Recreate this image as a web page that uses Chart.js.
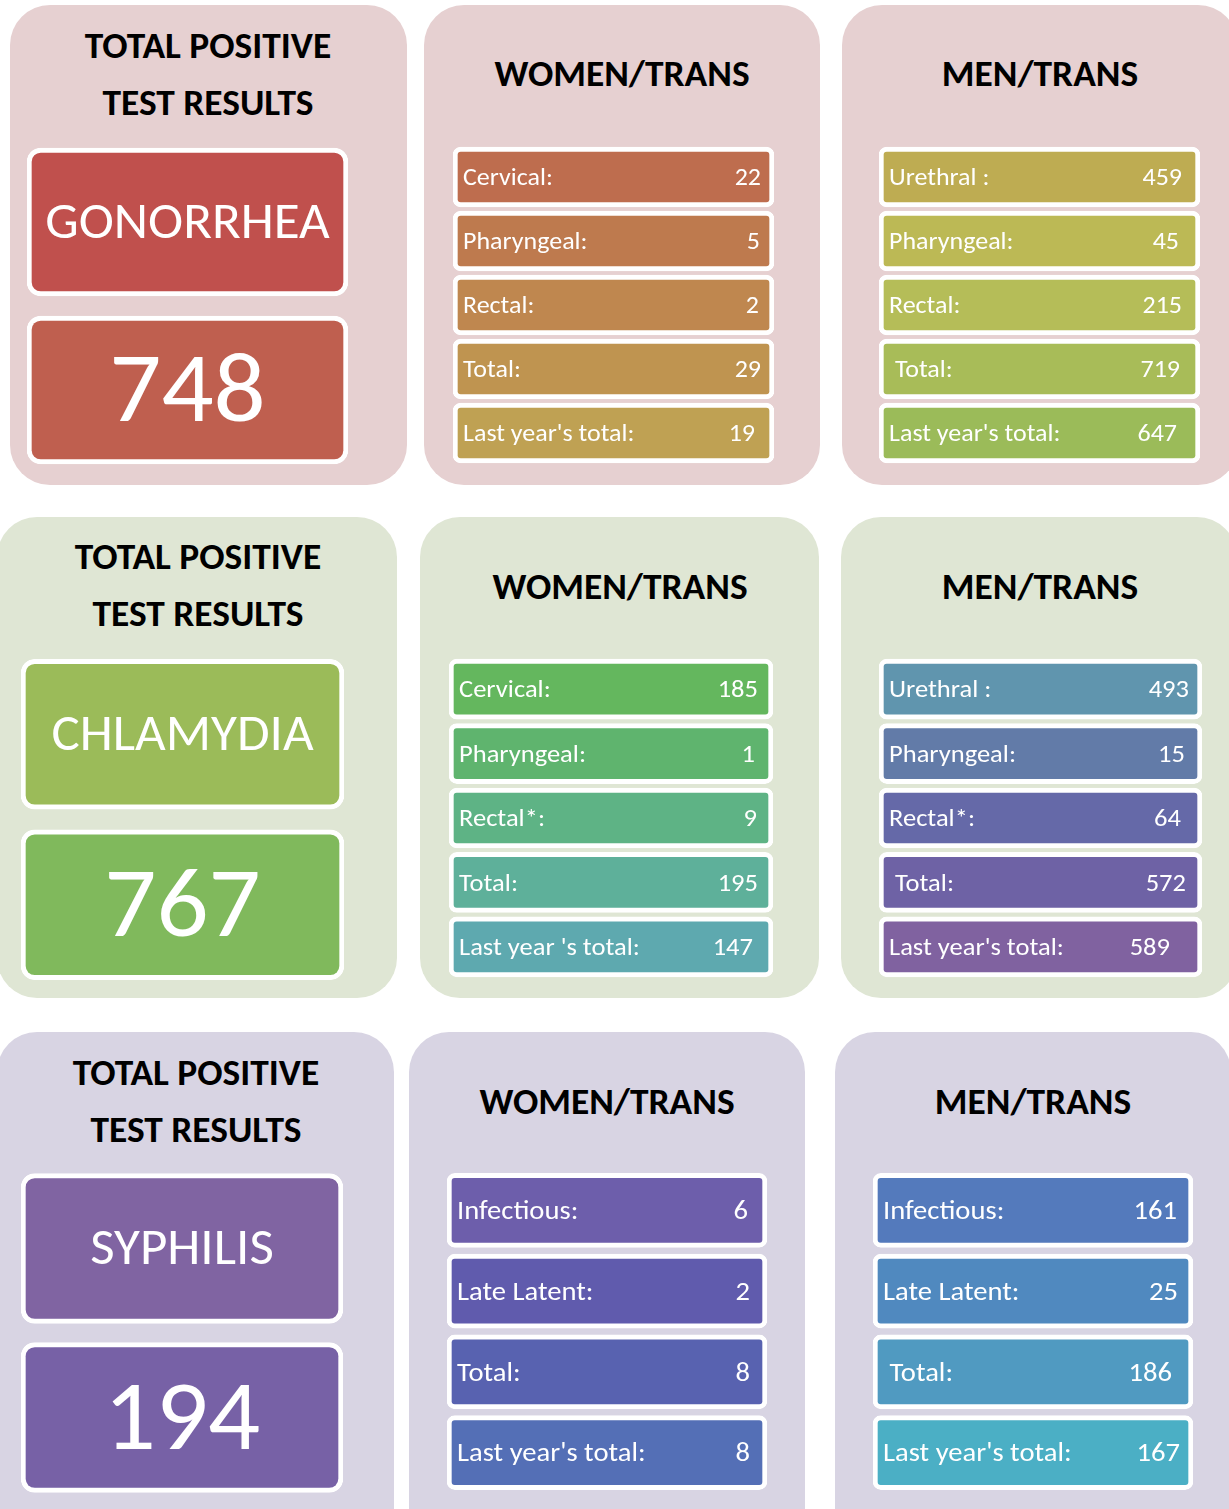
<!DOCTYPE html>
<html>
<head>
<meta charset="utf-8">
<script src="https://cdn.jsdelivr.net/npm/chart.js@4.4.1/dist/chart.umd.min.js"></script>
<style>
  html, body { margin:0; padding:0; background:#fff; }
  body { width:1229px; height:1509px; position:relative; overflow:hidden; font-family: Carlito, Lato, sans-serif; }
  .panel { position:absolute; border-radius:40px; }
  .title { position:absolute; width:500px; text-align:center; font-weight:700; color:#000; white-space:pre; }
  canvas { position:absolute; }
</style>
</head>
<body>
<script>
// ---------------- DATA ----------------
const diseases = ['GONORRHEA', 'CHLAMYDIA', 'SYPHILIS'];
const diseaseTotals = [748, 767, 194];
const totalTitle = ['TOTAL POSITIVE', 'TEST RESULTS'];
const groupTitles = ['WOMEN/TRANS', 'MEN/TRANS'];

const gonWomenLabels = ['Cervical:', 'Pharyngeal:', 'Rectal:', 'Total:', "Last year's total:"];
const gonWomenValues = [22, 5, 2, 29, 19];
const gonMenLabels = ['Urethral :', 'Pharyngeal:', 'Rectal:', ' Total:', "Last year's total:"];
const gonMenValues = [459, 45, 215, 719, 647];

const chlWomenLabels = ['Cervical:', 'Pharyngeal:', 'Rectal*:', 'Total:', "Last year 's total:"];
const chlWomenValues = [185, 1, 9, 195, 147];
const chlMenLabels = ['Urethral :', 'Pharyngeal:', 'Rectal*:', ' Total:', "Last year's total:"];
const chlMenValues = [493, 15, 64, 572, 589];

const syphWomenLabels = ['Infectious:', 'Late Latent:', 'Total:', "Last year's total:"];
const syphWomenValues = [6, 2, 8, 8];
const syphMenLabels = ['Infectious:', 'Late Latent:', ' Total:', "Last year's total:"];
const syphMenValues = [161, 25, 186, 167];

// ---------------- STYLE / LAYOUT ----------------
const FONT = 'Carlito, Lato, sans-serif';
const CAP = 0.7165;
const STRETCH = 1.04;

const rowBg = ['#E6D0D1', '#DFE6D4', '#D8D4E3'];
const panelRects = [
  [[10, 5, 397, 480], [424, 5, 396, 480], [842, 5, 396, 480]],
  [[-3, 517, 400, 481], [420, 517, 399, 481], [841, 517, 396, 481]],
  [[-3, 1032, 397, 540], [409, 1032, 396, 540], [835, 1032, 396, 540]]
];
// title cap-centre positions
const titlePos = [
  [[207.5, [47.5, 104.5]], [621.5, [75.5]], [1040, [75.5]]],
  [[197.5, [558.5, 615.5]], [620, [588.5]], [1040, [588.5]]],
  [[196, [1074, 1131.5]], [606.5, [1103.5]], [1033, [1103.5]]]
];
const TITLE_SIZE = 36;

const gonColors = ['#C0504D', '#BF5F4F'];
const chlColors = ['#9BBB59', '#80B95C'];
const syphColors = ['#8064A2', '#7761A6'];
const gonWomenColors = ['#BE6D4E', '#BE7A4E', '#BF874F', '#BF9450', '#BFA153'];
const gonMenColors = ['#BEAC52', '#BCB955', '#B5BD58', '#A8BC58', '#9BBB59'];
const chlWomenColors = ['#64B75E', '#5FB46E', '#5EB385', '#5EB09A', '#5EA9AF'];
const chlMenColors = ['#6095AE', '#627BA8', '#6569A8', '#6E62A5', '#8062A0'];
const syphWomenColors = ['#6D5EAB', '#605BAD', '#5862B0', '#546FB6'];
const syphMenColors = ['#547ABC', '#5089BF', '#509AC1', '#4BAFC5'];

// ---------------- BUILD ----------------
function el(tag, css, parent) {
  const e = document.createElement(tag);
  Object.assign(e.style, css);
  (parent || document.body).appendChild(e);
  return e;
}

panelRects.forEach((row, r) => {
  row.forEach(([x, y, w, h]) => {
    const d = el('div', { left: x + 'px', top: y + 'px', width: w + 'px', height: h + 'px', background: rowBg[r] });
    d.className = 'panel';
  });
});

titlePos.forEach((row, r) => {
  row.forEach(([cx, lines], p) => {
    const texts = p === 0 ? totalTitle : [groupTitles[p - 1]];
    lines.forEach((cy, i) => {
      const t = el('div', {
        left: (cx - 250) + 'px', top: (cy - 0.53 * TITLE_SIZE) + 'px',
        fontSize: TITLE_SIZE + 'px', lineHeight: TITLE_SIZE + 'px',
        transform: 'scaleX(' + STRETCH + ')'
      });
      t.className = 'title';
      t.textContent = texts[i];
    });
  });
});

function stretchedText(ctx, text, x, y, align) {
  ctx.save();
  ctx.translate(x, y);
  ctx.scale(STRETCH, 1);
  ctx.textAlign = align;
  ctx.fillText(text, 0, 0);
  ctx.restore();
}

const boxText = {
  id: 'boxText',
  afterDatasetsDraw(chart, args, o) {
    const ctx = chart.ctx;
    const meta = chart.getDatasetMeta(0);
    ctx.save();
    ctx.fillStyle = '#FFFFFF';
    ctx.textBaseline = 'alphabetic';
    meta.data.forEach((bar, i) => {
      const p = bar.getProps(['x', 'y', 'base'], true);
      const left = Math.min(p.x, p.base), right = Math.max(p.x, p.base);
      if (o.mode === 'rows') {
        ctx.font = o.size + 'px ' + FONT;
        const by = p.y + o.size * CAP / 2 + o.dy;
        stretchedText(ctx, chart.data.labels[i], left + o.padL, by, 'left');
        stretchedText(ctx, String(o.values[i]), right - o.insets[i], by, 'right');
      } else {
        const s = o.sizes[i];
        ctx.font = s + 'px ' + FONT;
        stretchedText(ctx, chart.data.labels[i], (left + right) / 2, p.y + s * CAP / 2 + o.dy[i], 'center');
      }
    });
    ctx.restore();
  }
};

function boxChart(cfg) {
  const c = el('canvas', { left: cfg.x + 'px', top: cfg.y + 'px', width: cfg.w + 'px', height: cfg.h + 'px' });
  c.width = cfg.w; c.height = cfg.h;
  return new Chart(c.getContext('2d'), {
    type: 'bar',
    data: {
      labels: cfg.labels,
      datasets: [{
        data: cfg.labels.map(() => [0, 1]),
        backgroundColor: cfg.colors,
        borderColor: '#FFFFFF',
        borderWidth: cfg.border,
        borderRadius: cfg.radius,
        borderSkipped: false,
        barThickness: cfg.thick
      }]
    },
    options: {
      indexAxis: 'y',
      responsive: false,
      animation: false,
      devicePixelRatio: 1,
      events: [],
      layout: { padding: 0 },
      scales: {
        x: { display: false, min: 0, max: 1 },
        y: { display: false }
      },
      plugins: {
        legend: { display: false },
        tooltip: { enabled: false },
        title: { display: false },
        boxText: cfg.text
      }
    },
    plugins: [boxText]
  });
}

function bigBox(x, y, w, h, thick, idx, colors) {
  boxChart({
    x, y, w, h, thick, border: 5, radius: 14, colors,
    labels: [diseases[idx], String(diseaseTotals[idx])],
    text: { mode: 'big', sizes: [51, 99], dy: [-2.5, -4] }
  });
}
function rowBox(x, y, w, h, thick, labels, values, colors, size, insets) {
  boxChart({
    x, y, w, h, thick, border: 5, radius: 8, colors, labels,
    text: { mode: 'rows', values, size, padL: 10, dy: -1, insets }
  });
}

function build() {
  bigBox(27, 138, 321, 336, 148, 0, gonColors);
  rowBox(453, 145, 321, 320, 60, gonWomenLabels, gonWomenValues, gonWomenColors, 25, [13, 14, 15, 13, 19]);
  rowBox(879, 145, 321, 320, 60, gonMenLabels, gonMenValues, gonMenColors, 25, [18, 21, 18, 20, 23]);

  bigBox(21, 649, 323, 341, 150, 1, chlColors);
  rowBox(449, 657, 324, 322, 60, chlWomenLabels, chlWomenValues, chlWomenColors, 25.5, [15, 18, 16, 15, 20]);
  rowBox(879, 657, 323, 322, 60, chlMenLabels, chlMenValues, chlMenColors, 25.5, [13, 17, 21, 16, 32]);

  bigBox(21, 1164, 322, 338, 150, 2, syphColors);
  rowBox(447, 1170, 320, 323, 74, syphWomenLabels, syphWomenValues, syphWomenColors, 27.5, [19, 17, 17, 17]);
  rowBox(873, 1170, 320, 323, 74, syphMenLabels, syphMenValues, syphMenColors, 27.5, [16, 15, 21, 13]);
}

if (document.fonts && document.fonts.load) {
  Promise.all([
    document.fonts.load('24px Lato'),
    document.fonts.load('700 36px Lato')
  ]).then(build, build);
} else {
  build();
}
</script>
</body>
</html>
